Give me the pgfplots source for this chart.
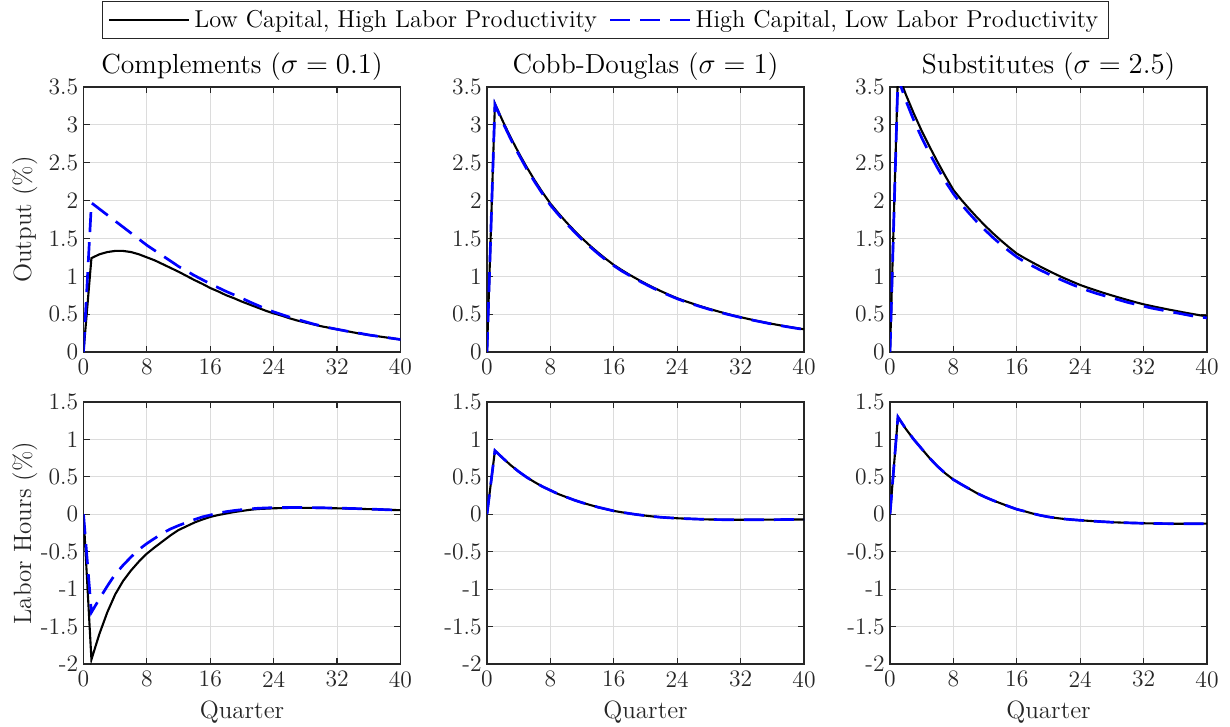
\documentclass[border=0pt]{standalone}
\usepackage{pgfplots}
\pgfplotsset{compat=1.18}
\usepackage{pgfplotstable}
\definecolor{axgray}{HTML}{262626}
\definecolor{gridgray}{HTML}{DCDCDC}

\pgfplotstableread{
t a b
0 0 0
1 1.24 1.97
2 1.29 1.89
3 1.32 1.81
4 1.335 1.73
5 1.335 1.65
6 1.32 1.57
7 1.29 1.49
8 1.25 1.41
9 1.21 1.34
10 1.16 1.27
11 1.11 1.20
12 1.06 1.13
13 1.005 1.07
14 0.95 1.01
15 0.90 0.955
16 0.845 0.90
17 0.80 0.85
18 0.75 0.80
19 0.71 0.755
20 0.665 0.71
21 0.625 0.66
22 0.585 0.615
23 0.545 0.57
24 0.51 0.53
25 0.48 0.495
26 0.445 0.46
27 0.415 0.43
28 0.39 0.40
29 0.365 0.37
30 0.34 0.345
31 0.32 0.32
32 0.30 0.30
33 0.28 0.28
34 0.26 0.26
35 0.24 0.245
36 0.225 0.225
37 0.21 0.21
38 0.195 0.195
39 0.18 0.18
40 0.165 0.165
}\tA

\pgfplotstableread{
t a b
0 0 0
1 3.28 3.27
2 3.047 3.03
3 2.831 2.81
4 2.630 2.61
5 2.443 2.42
6 2.270 2.25
7 2.109 2.09
8 1.96 1.94
9 1.834 1.815
10 1.715 1.70
11 1.605 1.59
12 1.501 1.485
13 1.404 1.39
14 1.314 1.30
15 1.229 1.215
16 1.15 1.14
17 1.083 1.07
18 1.019 1.01
19 0.960 0.95
20 0.904 0.895
21 0.851 0.842
22 0.801 0.793
23 0.754 0.747
24 0.71 0.703
25 0.672 0.665
26 0.637 0.630
27 0.603 0.597
28 0.571 0.565
29 0.541 0.536
30 0.512 0.507
31 0.485 0.481
32 0.46 0.456
33 0.436 0.432
34 0.413 0.410
35 0.392 0.389
36 0.371 0.368
37 0.352 0.349
38 0.334 0.331
39 0.316 0.314
40 0.30 0.298
}\tB

\pgfplotstableread{
t a b
0 0 0
1 3.68 3.62
2 3.40 3.32
3 3.15 3.06
4 2.92 2.83
5 2.71 2.62
6 2.51 2.43
7 2.32 2.25
8 2.14 2.09
9 2.01 1.95
10 1.89 1.83
11 1.775 1.715
12 1.668 1.61
13 1.567 1.51
14 1.473 1.42
15 1.384 1.335
16 1.30 1.255
17 1.239 1.19
18 1.181 1.135
19 1.126 1.08
20 1.073 1.03
21 1.022 0.98
22 0.974 0.935
23 0.929 0.89
24 0.885 0.85
25 0.848 0.81
26 0.813 0.775
27 0.779 0.745
28 0.747 0.715
29 0.716 0.685
30 0.686 0.655
31 0.657 0.63
32 0.63 0.605
33 0.607 0.58
34 0.585 0.56
35 0.564 0.54
36 0.544 0.52
37 0.524 0.50
38 0.505 0.48
39 0.487 0.465
40 0.47 0.45
}\tC

\pgfplotstableread{
t a b
0 0 0
1 -1.94 -1.31
2 -1.60 -1.13
3 -1.31 -0.96
4 -1.07 -0.80
5 -0.89 -0.68
6 -0.75 -0.57
7 -0.63 -0.47
8 -0.525 -0.39
9 -0.44 -0.32
10 -0.36 -0.25
11 -0.28 -0.195
12 -0.21 -0.15
13 -0.16 -0.11
14 -0.11 -0.07
15 -0.07 -0.035
16 -0.035 -0.01
17 -0.01 0.015
18 0.01 0.035
19 0.03 0.05
20 0.045 0.062
21 0.06 0.072
22 0.07 0.08
23 0.075 0.085
24 0.08 0.088
25 0.083 0.09
26 0.085 0.091
27 0.086 0.091
28 0.086 0.09
29 0.085 0.089
30 0.084 0.087
31 0.082 0.085
32 0.08 0.083
33 0.078 0.08
34 0.075 0.077
35 0.072 0.074
36 0.069 0.07
37 0.066 0.066
38 0.062 0.062
39 0.058 0.058
40 0.055 0.054
}\tD

\pgfplotstableread{
t a b
0 0 0
1 0.85 0.85
2 0.75 0.75
3 0.655 0.655
4 0.57 0.57
5 0.495 0.495
6 0.43 0.43
7 0.37 0.37
8 0.32 0.32
9 0.27 0.27
10 0.23 0.23
11 0.19 0.19
12 0.155 0.155
13 0.125 0.125
14 0.095 0.095
15 0.07 0.07
16 0.045 0.045
17 0.027 0.027
18 0.01 0.01
19 -0.005 -0.005
20 -0.018 -0.018
21 -0.03 -0.03
22 -0.04 -0.04
23 -0.047 -0.047
24 -0.053 -0.053
25 -0.058 -0.058
26 -0.062 -0.062
27 -0.066 -0.066
28 -0.069 -0.069
29 -0.071 -0.071
30 -0.072 -0.072
31 -0.073 -0.073
32 -0.073 -0.073
33 -0.073 -0.073
34 -0.073 -0.073
35 -0.072 -0.072
36 -0.072 -0.072
37 -0.071 -0.071
38 -0.07 -0.07
39 -0.07 -0.07
40 -0.069 -0.069
}\tE

\pgfplotstableread{
t a b
0 0 0
1 1.30 1.30
2 1.14 1.14
3 1.00 1.00
4 0.875 0.875
5 0.75 0.75
6 0.64 0.64
7 0.545 0.545
8 0.463 0.463
9 0.40 0.40
10 0.34 0.34
11 0.28 0.28
12 0.23 0.23
13 0.185 0.185
14 0.145 0.145
15 0.105 0.105
16 0.067 0.067
17 0.04 0.04
18 0.01 0.01
19 -0.015 -0.015
20 -0.035 -0.035
21 -0.05 -0.05
22 -0.063 -0.063
23 -0.072 -0.072
24 -0.08 -0.08
25 -0.087 -0.087
26 -0.094 -0.094
27 -0.10 -0.10
28 -0.106 -0.106
29 -0.11 -0.11
30 -0.114 -0.114
31 -0.117 -0.117
32 -0.12 -0.12
33 -0.122 -0.122
34 -0.124 -0.124
35 -0.125 -0.125
36 -0.126 -0.126
37 -0.126 -0.126
38 -0.126 -0.126
39 -0.126 -0.126
40 -0.125 -0.125
}\tF

\pgfplotsset{
  myax/.style={
    scale only axis, width=158.5pt,
    xmin=0, xmax=40, xtick={0,8,16,24,32,40}, xticklabels={0,8,16,24,32,40},
    grid=major, major grid style={gridgray, line width=0.45pt},
    axis line style={axgray, line width=0.6pt},
    tick style={axgray, line width=0.6pt},
    tick align=inside, tick pos=both, major tick length=3pt,
    xticklabel pos=lower, yticklabel pos=left,
    tick label style={font=\fontsize{11.8}{14}\selectfont, text=axgray},
    yticklabel style={inner xsep=2.5pt},
    title style={font=\fontsize{13.8}{16}\selectfont, yshift=-6pt},
    xlabel style={font=\fontsize{12.5}{15}\selectfont, text=axgray, at={(axis description cs:0.5,-0.185)}, anchor=center},
    ylabel style={font=\fontsize{12.5}{15}\selectfont, text=axgray, at={(axis description cs:-0.185,0.5)}, anchor=center, rotate=0},
    clip=true,
  },
  toprow/.style={myax, height=132.5pt, ymin=0, ymax=3.5,
    ytick={0,0.5,1,1.5,2,2.5,3,3.5}, yticklabels={0,0.5,1,1.5,2,2.5,3,3.5}},
  botrow/.style={myax, height=131pt, ymin=-2, ymax=1.5,
    ytick={-2,-1.5,-1,-0.5,0,0.5,1,1.5}, yticklabels={-2,-1.5,-1,-0.5,0,0.5,1,1.5}},
  lowc/.style={black, line width=1.05pt},
  highc/.style={blue, line width=1.35pt, dash pattern=on 10pt off 5pt},
}

\begin{document}
\begin{tikzpicture}
\useasboundingbox (0,0) rectangle (615pt,-363.5pt);

% top row
\begin{axis}[toprow, at={(41.75pt,-43.5pt)}, anchor=north west,
  title={Complements ($\sigma=0.1$)}, ylabel={Output (\%)}]
\addplot[lowc] table[x=t,y=a]{\tA};
\addplot[highc] table[x=t,y=b]{\tA};
\end{axis}

\begin{axis}[toprow, at={(243.5pt,-43.5pt)}, anchor=north west,
  title={Cobb-Douglas ($\sigma=1$)},
  legend columns=2,
  legend style={at={(0.373,1.253)}, anchor=center, draw=axgray, line width=0.5pt,
    font=\fontsize{12.2}{14}\selectfont, inner xsep=3pt, inner ysep=2pt,
    /tikz/every even column/.append style={column sep=4pt}},
  legend image code/.code={\draw[#1] (0pt,0pt) -- (40pt,0pt);}]
\addplot[lowc] table[x=t,y=a]{\tB};
\addlegendentry{Low Capital, High Labor Productivity}
\addplot[highc] table[x=t,y=b]{\tB};
\addlegendentry{High Capital, Low Labor Productivity}
\end{axis}

\begin{axis}[toprow, at={(445pt,-43.5pt)}, anchor=north west,
  title={Substitutes ($\sigma=2.5$)}]
\addplot[lowc] table[x=t,y=a]{\tC};
\addplot[highc] table[x=t,y=b]{\tC};
\end{axis}

% bottom row
\begin{axis}[botrow, at={(41.75pt,-201pt)}, anchor=north west,
  xlabel={Quarter}, ylabel={Labor Hours (\%)}]
\addplot[lowc] table[x=t,y=a]{\tD};
\addplot[highc] table[x=t,y=b]{\tD};
\end{axis}

\begin{axis}[botrow, at={(243.5pt,-201pt)}, anchor=north west,
  xlabel={Quarter}]
\addplot[lowc] table[x=t,y=a]{\tE};
\addplot[highc] table[x=t,y=b]{\tE};
\end{axis}

\begin{axis}[botrow, at={(445pt,-201pt)}, anchor=north west,
  xlabel={Quarter}]
\addplot[lowc] table[x=t,y=a]{\tF};
\addplot[highc] table[x=t,y=b]{\tF};
\end{axis}
\end{tikzpicture}
\end{document}
